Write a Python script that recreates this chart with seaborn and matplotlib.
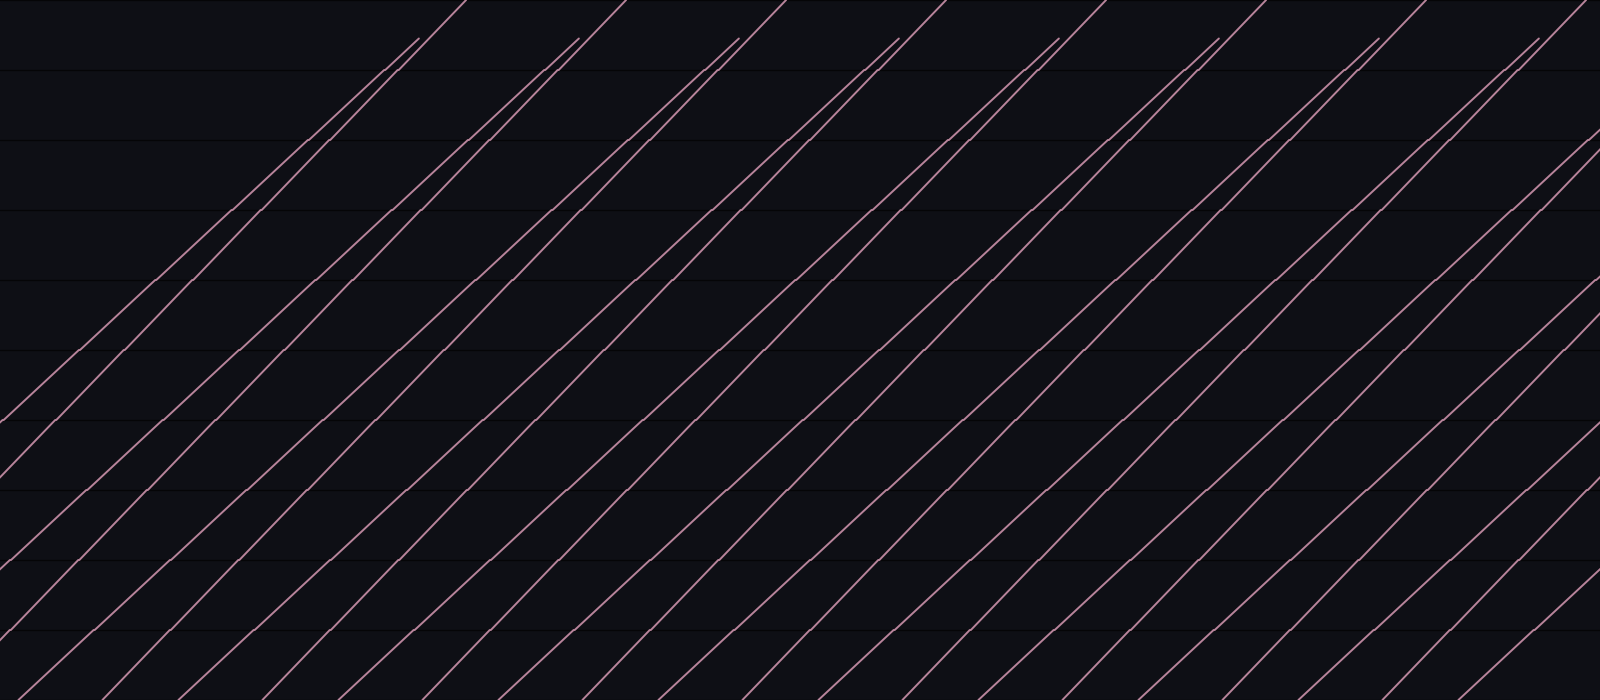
import numpy as np
import pandas as pd
import matplotlib
matplotlib.use("Agg")
import matplotlib.pyplot as plt
import seaborn as sns

# timetable: positions of stops along the line and run times (minutes) between them
slow_stops = [0, 1, 2, 3, 4, 5, 6, 7, 8, 9, 9.45]
slow_run = [4.70, 4.70, 4.70, 4.70, 4.70, 4.70, 4.70, 4.70, 4.70, 2.10]
fast_stops = [0, 1, 2, 3, 4, 5, 6, 7, 8, 9, 10]
fast_run = [4.21, 4.21, 4.21, 4.21, 4.21, 4.21, 4.21, 4.21, 4.21, 4.21]
dwell = 0.07

# departure times from the first stop (minutes)
slow_dep = [-18.85, -8.85, 1.15, 11.15, 21.15, 31.15, 41.15, 51.15, 61.15, 71.15, 81.15, 91.15]
fast_dep = [-13.6, -3.6, 6.4, 16.4, 26.4, 36.4, 46.4, 56.4, 66.4, 76.4, 86.4]

BG = "#0e0f15"
LINE = "#b8849b"
GRID = "#050507"


def train_rows(name, dep, stops, runs):
    rows = []
    t = dep
    rows.append((name, t, stops[0]))
    for i, run in enumerate(runs):
        t += run
        rows.append((name, t, stops[i + 1]))
        if i < len(runs) - 1:
            t += dwell
            rows.append((name, t, stops[i + 1]))
    return rows


rows = []
for i, d in enumerate(slow_dep):
    rows += train_rows(f"S{i}", d, slow_stops, slow_run)
for i, d in enumerate(fast_dep):
    rows += train_rows(f"F{i}", d, fast_stops, fast_run)
df = pd.DataFrame(rows, columns=["train", "t", "pos"])

sns.set_theme(style="dark", rc={"axes.facecolor": BG, "figure.facecolor": BG})

fig = plt.figure(figsize=(16, 7), dpi=100)
ax = fig.add_axes([0, 0, 1, 1])
sns.lineplot(data=df, x="t", y="pos", units="train", estimator=None, sort=False,
             color=LINE, linewidth=1.4, ax=ax, legend=False)

ax.set_xlim(0, 100)
ax.set_ylim(0, 10)
ax.set_yticks(range(11))
ax.set_xticks([])
ax.grid(axis="y", color=GRID, linewidth=1.0)
ax.grid(axis="x", visible=False)
ax.set_axisbelow(True)
ax.tick_params(length=0, labelleft=False, labelbottom=False)
ax.set_xlabel("")
ax.set_ylabel("")
for s in ax.spines.values():
    s.set_visible(False)

fig.savefig("out.png", dpi=100, facecolor=BG)
